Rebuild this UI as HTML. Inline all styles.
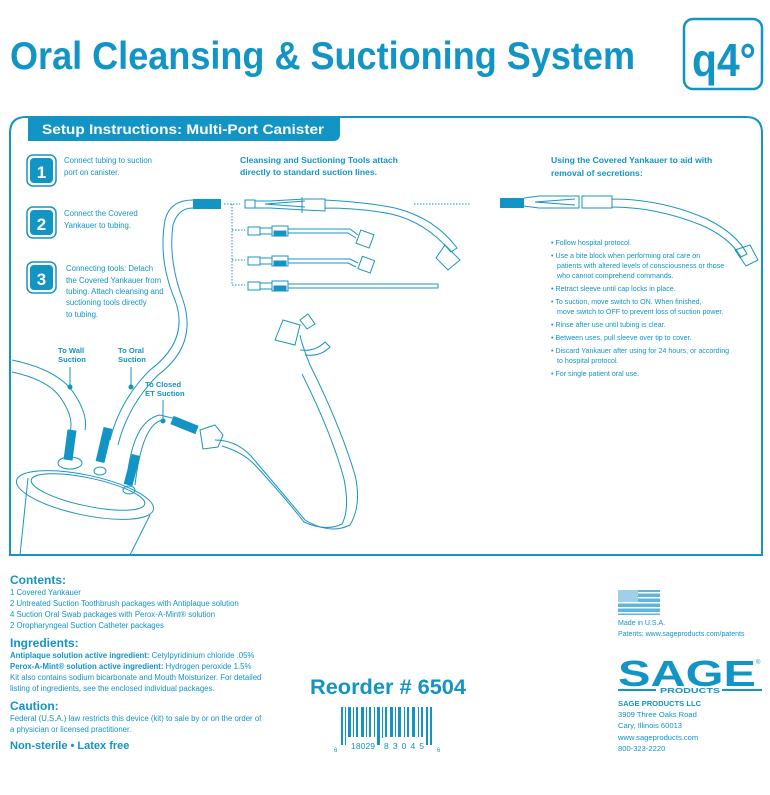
<!DOCTYPE html>
<html><head><meta charset="utf-8"><style>
html,body{margin:0;padding:0;background:#fff}
svg{display:block}
text{font-family:"Liberation Sans",sans-serif;fill:#1294c4}
.s{font-size:7.8px}
.b{font-weight:bold}
.ln{fill:none;stroke:#1b94c4;stroke-width:1}
</style></head><body>
<svg width="770" height="795" viewBox="0 0 770 795" xmlns="http://www.w3.org/2000/svg">
<!-- Title -->
<text x="10" y="69" class="b" font-size="39" textLength="625" lengthAdjust="spacingAndGlyphs">Oral Cleansing &amp; Suctioning System</text>
<rect x="684" y="19" width="78" height="70" rx="9" fill="none" stroke="#1294c4" stroke-width="2.5"/>
<text x="692" y="76" class="b" font-size="46" textLength="64" lengthAdjust="spacingAndGlyphs">q4°</text>

<!-- Panel -->
<path d="M10,555 L10,133 Q10,117 26,117 L746,117 Q762,117 762,133 L762,555 Z" fill="none" stroke="#1294c4" stroke-width="2"/>
<path d="M28,117 L340,117 L340,134 Q340,141 333,141 L28,141 Z" fill="#1294c4"/>
<text x="42" y="134" class="b" font-size="14" style="fill:#fff" textLength="282" lengthAdjust="spacingAndGlyphs">Setup Instructions: Multi-Port Canister</text>

<!-- Steps -->
<g>
<rect x="27" y="155" width="29" height="31" rx="6" fill="#fff" stroke="#1294c4" stroke-width="1.5"/><rect x="30" y="158" width="23" height="25" rx="4" fill="#1294c4"/>
<text x="41.5" y="178" text-anchor="middle" class="b" font-size="17" style="fill:#fff">1</text>
<rect x="27" y="207" width="29" height="31" rx="6" fill="#fff" stroke="#1294c4" stroke-width="1.5"/><rect x="30" y="210" width="23" height="25" rx="4" fill="#1294c4"/>
<text x="41.5" y="230" text-anchor="middle" class="b" font-size="17" style="fill:#fff">2</text>
<rect x="27" y="262" width="29" height="31" rx="6" fill="#fff" stroke="#1294c4" stroke-width="1.5"/><rect x="30" y="265" width="23" height="25" rx="4" fill="#1294c4"/>
<text x="41.5" y="285" text-anchor="middle" class="b" font-size="17" style="fill:#fff">3</text>
<text x="64" y="163" class="s">Connect tubing to suction</text>
<text x="64" y="175" class="s">port on canister.</text>
<text x="64" y="216" class="s">Connect the Covered</text>
<text x="64" y="228" class="s">Yankauer to tubing.</text>
<text x="66" y="271" class="s">Connecting tools: Detach</text>
<text x="66" y="283" class="s">the Covered Yankauer from</text>
<text x="66" y="294" class="s">tubing. Attach cleansing and</text>
<text x="66" y="305" class="s">suctioning tools directly</text>
<text x="66" y="317" class="s">to tubing.</text>
</g>

<!-- Tools header -->
<text x="240" y="163" class="b" font-size="8.6">Cleansing and Suctioning Tools attach</text>
<text x="240" y="175" class="b" font-size="8.6">directly to standard suction lines.</text>
<text x="551" y="163" class="b" font-size="8.6">Using the Covered Yankauer to aid with</text>
<text x="551" y="176" class="b" font-size="8.6">removal of secretions:</text>

<!-- tubing long -->
<path class="ln" d="M193,200 Q170,200 165,220 Q158,260 175,300 Q190,340 150,370 Q120,400 110,440"/>
<path class="ln" d="M193,208 Q178,208 173,225 Q168,260 183,300 Q198,345 158,375 Q128,405 118,445"/>
<rect x="193" y="199" width="28" height="10" fill="#1294c4"/>
<path d="M224,204 H240 M232,204 V285 M232,230 H245 M232,260 H245 M232,285 H245 M414,204 H470" stroke="#1294c4" stroke-width="1" stroke-dasharray="1.5,1.5" fill="none"/>
<path class="ln" d="M245,200 h10 v8 h-10z M255,201 l15,0 l35,-2 l20,0 v12 l-20,-1 l-35,-2 l-15,0 M265,204 l40,-3 M265,204 l40,3 M302,197 v16 M325,200 q40,2 70,8 q40,10 62,40 l-6,4 q-25,-30 -60,-38 q-30,-6 -66,-6 M445,245 l15,15 l-12,10 l-12,-12z"/>
<g class="ln">
<path d="M248,227 h12 v8 h-12z M260,228 h12 v6 h-12 M272,226 h16 v10 h-16z M288,229 h62 l8,6 M288,233 h60 l8,5"/>
<rect x="274" y="231" width="12" height="5" fill="#1294c4"/>
<rect x="358" y="232" width="14" height="14" transform="rotate(20 365 239)"/>
<path d="M248,257 h12 v8 h-12z M260,258 h12 v6 h-12 M272,256 h16 v10 h-16z M288,259 h62 l8,4 M288,263 h60 l8,4"/>
<rect x="274" y="261" width="12" height="5" fill="#1294c4"/>
<rect x="360" y="258" width="13" height="13" transform="rotate(20 366 264)"/>
<path d="M248,282 h12 v8 h-12z M260,283 h12 v6 h-12 M272,281 h16 v10 h-16z M288,284 h150 v4 h-150"/>
<rect x="274" y="286" width="12" height="5" fill="#1294c4"/>
</g>
<rect x="500" y="198" width="24" height="10" fill="#1294c4"/>
<path class="ln" d="M524,198 l15,-2 l40,0 v12 l-40,0 l-15,-2 M535,202 l40,-3 M535,202 l40,3 M582,196 h30 v12 h-30z M612,199 q50,0 95,20 q30,15 40,35 l-6,3 q-12,-20 -40,-32 q-45,-18 -89,-18 M735,250 l15,-5 l8,15 l-12,6z"/>

<g>
<text x="551" y="245" font-size="7.1">• Follow hospital protocol.</text>
<text x="551" y="258" font-size="7.1">• Use a bite block when performing oral care on</text>
<text x="557" y="268" font-size="7.1">patients with altered levels of consciousness or those</text>
<text x="557" y="278" font-size="7.1">who cannot comprehend commands.</text>
<text x="551" y="291" font-size="7.1">• Retract sleeve until cap locks in place.</text>
<text x="551" y="304" font-size="7.1">• To suction, move switch to ON. When finished,</text>
<text x="557" y="314" font-size="7.1">move switch to OFF to prevent loss of suction power.</text>
<text x="551" y="327" font-size="7.1">• Rinse after use until tubing is clear.</text>
<text x="551" y="340" font-size="7.1">• Between uses, pull sleeve over tip to cover.</text>
<text x="551" y="353" font-size="7.1">• Discard Yankauer after using for 24 hours, or according</text>
<text x="557" y="363" font-size="7.1">to hospital protocol.</text>
<text x="551" y="376" font-size="7.1">• For single patient oral use.</text>
</g>

<!-- canister scene -->
<g class="ln">
<path d="M12,360 Q60,370 75,395 Q88,415 85,430 M12,372 Q50,380 62,400 Q74,418 70,432"/>
<ellipse cx="85" cy="495" rx="70" ry="20" transform="rotate(12 85 495)"/>
<ellipse cx="88" cy="492" rx="58" ry="14" transform="rotate(12 88 492)"/>
<path d="M28,478 L20,555 M150,515 L130,555"/>
<ellipse cx="70" cy="463" rx="12" ry="6"/>
<ellipse cx="100" cy="471" rx="6" ry="4"/>
<ellipse cx="129" cy="490" rx="6" ry="4"/>
<path d="M128,470 Q135,420 160,415 L180,420 M135,485 Q142,425 162,420"/>
<path d="M200,430 l15,-5 l8,10 l-5,12 l-15,2 z"/>
<path d="M215,440 q20,0 35,15 q30,35 55,65 q25,15 45,5 q12,-20 5,-50 q-15,-50 -45,-110 q-8,-20 -10,-30"/>
<path d="M222,446 q20,6 32,18 q28,30 50,58 q22,10 38,2 q8,-15 2,-45 q-12,-45 -42,-105"/>
<path d="M275,340 l8,-20 l17,5 l-5,20z M300,320 l8,-6 l7,10 l-8,5z M300,350 q15,2 25,-8 l5,5 q-10,10 -25,8"/>
</g>
<path d="M72,430 L68,460" stroke="#1294c4" stroke-width="9"/>
<path d="M108,428 L100,462" stroke="#1294c4" stroke-width="9"/>
<path d="M136,455 L128,485" stroke="#1294c4" stroke-width="9"/>
<path d="M172,420 L197,430" stroke="#1294c4" stroke-width="9"/>
<g class="b" font-size="7.6">
<text x="58" y="353">To Wall</text><text x="58" y="362">Suction</text>
<text x="118" y="353">To Oral</text><text x="118" y="362">Suction</text>
<text x="145" y="387">To Closed</text><text x="145" y="396">ET Suction</text>
</g>
<path d="M70,367 V387 M131,367 V387 M163,400 V420" stroke="#1294c4"/>
<circle cx="70" cy="387" r="2.5" fill="#1294c4"/><circle cx="131" cy="387" r="2.5" fill="#1294c4"/><circle cx="163" cy="421" r="2.5" fill="#1294c4"/>

<!-- Bottom left -->
<text x="10" y="584" class="b" font-size="12">Contents:</text>
<text x="10" y="595" class="s">1 Covered Yankauer</text>
<text x="10" y="606" class="s">2 Untreated Suction Toothbrush packages with Antiplaque solution</text>
<text x="10" y="617" class="s">4 Suction Oral Swab packages with Perox-A-Mint® solution</text>
<text x="10" y="628" class="s">2 Oropharyngeal Suction Catheter packages</text>
<text x="10" y="647" class="b" font-size="12">Ingredients:</text>
<text x="10" y="658" class="s"><tspan class="b">Antiplaque solution active ingredient:</tspan> Cetylpyridinium chloride .05%</text>
<text x="10" y="669" class="s"><tspan class="b">Perox-A-Mint® solution active ingredient:</tspan> Hydrogen peroxide 1.5%</text>
<text x="10" y="680" class="s">Kit also contains sodium bicarbonate and Mouth Moisturizer. For detailed</text>
<text x="10" y="691" class="s">listing of ingredients, see the enclosed individual packages.</text>
<text x="10" y="710" class="b" font-size="12">Caution:</text>
<text x="10" y="721" class="s">Federal (U.S.A.) law restricts this device (kit) to sale by or on the order of</text>
<text x="10" y="732" class="s">a physician or licensed practitioner.</text>
<text x="10" y="749" class="b" font-size="11">Non-sterile • Latex free</text>

<!-- Reorder -->
<text x="310" y="694" class="b" font-size="21" textLength="156" lengthAdjust="spacingAndGlyphs">Reorder # 6504</text>
<g fill="#1294c4">
<rect x="341" y="707" width="2" height="38"/><rect x="345" y="707" width="1" height="38"/>
<rect x="348" y="707" width="3" height="30"/><rect x="353" y="707" width="1" height="30"/><rect x="356" y="707" width="2" height="30"/>
<rect x="361" y="707" width="3" height="30"/><rect x="366" y="707" width="1" height="30"/><rect x="369" y="707" width="2" height="30"/>
<rect x="374" y="707" width="1" height="30"/><rect x="377" y="707" width="3" height="38"/><rect x="382" y="707" width="1" height="38"/>
<rect x="385" y="707" width="2" height="30"/><rect x="390" y="707" width="3" height="30"/><rect x="395" y="707" width="1" height="30"/>
<rect x="398" y="707" width="3" height="30"/><rect x="404" y="707" width="1" height="30"/><rect x="407" y="707" width="2" height="30"/>
<rect x="412" y="707" width="3" height="30"/><rect x="418" y="707" width="1" height="30"/><rect x="421" y="707" width="2" height="30"/>
<rect x="426" y="707" width="2" height="38"/><rect x="430" y="707" width="2" height="38"/>
</g>
<rect x="350" y="738" width="76" height="12" fill="#fff"/>
<rect x="377" y="738" width="3" height="7" fill="#1294c4"/>
<text x="334" y="752" font-size="6">6</text>
<text x="351" y="749" font-size="8.5" textLength="24">18029</text>
<text x="384" y="749" font-size="8.5" textLength="40">83045</text>
<text x="437" y="752" font-size="6">6</text>

<!-- Flag -->
<rect x="618" y="590" width="42" height="25" fill="#5fb6dc"/>
<rect x="618" y="592" width="42" height="1.5" fill="#fff"/><rect x="618" y="597" width="42" height="1.5" fill="#fff"/>
<rect x="618" y="602" width="42" height="1.5" fill="#fff"/><rect x="618" y="607" width="42" height="1.5" fill="#fff"/><rect x="618" y="612" width="42" height="1.5" fill="#fff"/>
<rect x="618" y="590" width="20" height="12" fill="#9fd0e8"/>
<text x="618" y="625" font-size="7">Made in U.S.A.</text>
<text x="618" y="636" font-size="7">Patents: www.sageproducts.com/patents</text>

<!-- SAGE logo -->
<text x="618" y="686" class="b" font-size="36" textLength="138" lengthAdjust="spacingAndGlyphs">SAGE</text>
<rect x="618" y="689" width="38" height="2" fill="#1294c4"/><rect x="722" y="689" width="40" height="2" fill="#1294c4"/>
<text x="660" y="693" class="b" font-size="7" textLength="60" lengthAdjust="spacingAndGlyphs">PRODUCTS</text>
<text x="756" y="664" font-size="6">®</text>
<text x="618" y="706" class="b" font-size="7.6">SAGE PRODUCTS LLC</text>
<text x="618" y="717" font-size="7.6">3909 Three Oaks Road</text>
<text x="618" y="728" font-size="7.6">Cary, Illinois 60013</text>
<text x="618" y="740" font-size="7.6">www.sageproducts.com</text>
<text x="618" y="751" font-size="7.6">800-323-2220</text>
</svg>
</body></html>
